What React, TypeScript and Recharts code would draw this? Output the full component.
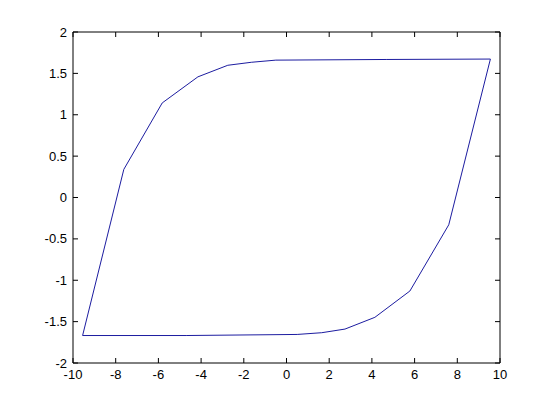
import React from 'react';
import { LineChart, Line, XAxis, YAxis } from 'recharts';

// upper branch, right to left
const upperX = [9.55, 4.7, -0.5, -1.65, -2.75, -4.15, -5.82, -7.62, -9.55];
const upperY = [1.673, 1.668, 1.66, 1.634, 1.598, 1.458, 1.143, 0.34, -1.668];
// lower branch, left to right
const lowerX = [-4.7, 0.5, 1.65, 2.74, 4.14, 5.78, 7.6, 9.55];
const lowerY = [-1.668, -1.655, -1.634, -1.59, -1.448, -1.13, -0.33, 1.673];

const xTicks = [-10, -8, -6, -4, -2, 0, 2, 4, 6, 8, 10];
const yTicks = [-2, -1.5, -1, -0.5, 0, 0.5, 1, 1.5, 2];

const loopData = [
  ...upperX.map((x, i) => ({ x, y: upperY[i] })),
  ...lowerX.map((x, i) => ({ x, y: lowerY[i] })),
];

const fontStyle = { fontFamily: '"Liberation Sans", Arial, sans-serif', fontSize: 13, fill: '#000' };
const TICK = 5;

const BottomTick = ({ x, y, payload }: any) => (
  <g>
    <line x1={x} x2={x} y1={y} y2={y - TICK} stroke="#000" />
    <text x={x} y={y + 16} textAnchor="middle" style={fontStyle}>{payload.value}</text>
  </g>
);

const TopTick = ({ x, y }: any) => (
  <line x1={x} x2={x} y1={y} y2={y + TICK} stroke="#000" />
);

const LeftTick = ({ x, y, payload }: any) => (
  <g>
    <line x1={x} x2={x + TICK} y1={y} y2={y} stroke="#000" />
    <text x={x - 6} y={y + 4.5} textAnchor="end" style={fontStyle}>{payload.value}</text>
  </g>
);

const RightTick = ({ x, y }: any) => (
  <line x1={x} x2={x - TICK} y1={y} y2={y} stroke="#000" />
);

export default function App() {
  return (
    <div style={{ position: 'absolute', left: 0, top: 0, width: 552, height: 408, background: '#fff' }}>
      <LineChart width={552} height={408} data={loopData} margin={{ top: 31, right: 51, bottom: 0, left: 0 }}>
        <XAxis xAxisId="bottom" dataKey="x" type="number" domain={[-10, 10]} ticks={xTicks}
          allowDataOverflow height={45} tickSize={0} tickMargin={0} tickLine={false}
          axisLine={{ stroke: '#000' }} tick={<BottomTick />} interval={0} />
        <XAxis xAxisId="top" orientation="top" dataKey="x" type="number" domain={[-10, 10]} ticks={xTicks}
          allowDataOverflow height={1} tickSize={0} tickMargin={0} tickLine={false}
          axisLine={{ stroke: '#000' }} tick={<TopTick />} interval={0} />
        <YAxis yAxisId="left" type="number" domain={[-2, 2]} ticks={yTicks}
          allowDataOverflow width={73} tickSize={0} tickMargin={0} tickLine={false}
          axisLine={{ stroke: '#000' }} tick={<LeftTick />} interval={0} />
        <YAxis yAxisId="right" orientation="right" type="number" domain={[-2, 2]} ticks={yTicks}
          allowDataOverflow width={1} tickSize={0} tickMargin={0} tickLine={false}
          axisLine={{ stroke: '#000' }} tick={<RightTick />} interval={0} />
        <Line xAxisId="top" yAxisId="right" dataKey="y" type="linear" stroke="none"
          dot={false} activeDot={false} isAnimationActive={false} />
        <Line xAxisId="bottom" yAxisId="left" dataKey="y" type="linear" stroke="#1c1ca0"
          strokeWidth={1} dot={false} activeDot={false} isAnimationActive={false} />
      </LineChart>
    </div>
  );
}
